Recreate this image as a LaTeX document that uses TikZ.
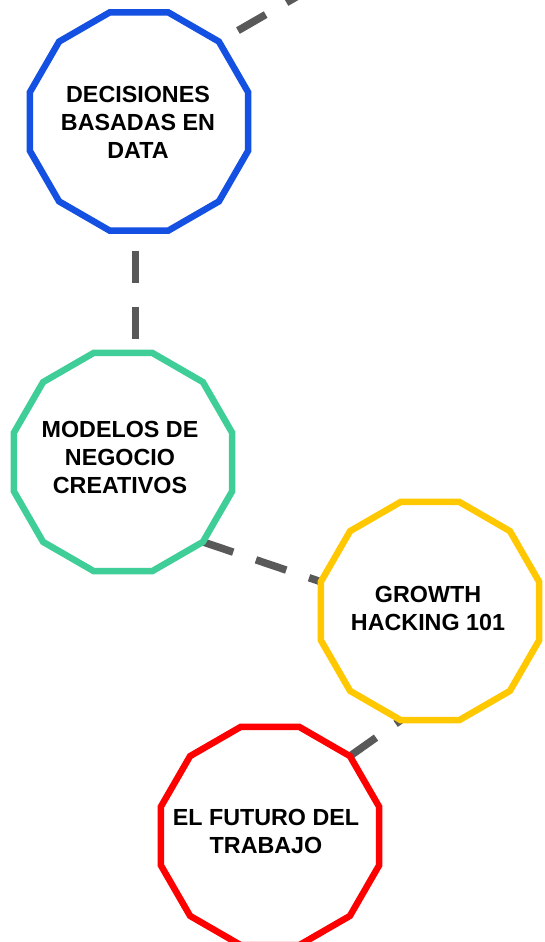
\documentclass[tikz,border=0pt]{standalone}
\usepackage{fontspec}
\setmainfont{Liberation Sans}
\usetikzlibrary{shapes.geometric,backgrounds}
\definecolor{cblue}{HTML}{1451E3}
\definecolor{cgreen}{HTML}{40CE98}
\definecolor{cyellow}{HTML}{FFC800}
\definecolor{cred}{HTML}{FF0000}
\definecolor{cgray}{HTML}{595959}
\begin{document}
\begin{tikzpicture}[x=1pt,y=1pt,
  dodeca/.style={regular polygon, regular polygon sides=12, minimum size=226pt,
    inner sep=0pt, outer sep=0pt, line width=6.5pt, fill=white},
  caption/.style={font=\bfseries\fontsize{23.3}{28}\selectfont, align=center, text=black, inner sep=0pt},
  link/.style={draw=cgray, line width=7.5pt, dash pattern=on 32pt off 24pt}]
\useasboundingbox (0,0) rectangle (544,-942);
\clip (0,0) rectangle (544,-942);
\node[dodeca, draw=cblue] (blue) at (139,-121.5) {};
\node[dodeca, draw=cgreen] (green) at (123,-462) {};
\node[dodeca, draw=cyellow] (yellow) at (430,-611) {};
\node[dodeca, draw=cred] (red) at (270,-836) {};
\node[caption] (tblue) at (138,-122) {DECISIONES\\BASADAS EN\\DATA};
\node[caption] (tgreen) at (120,-457) {MODELOS DE\\NEGOCIO\\CREATIVOS};
\node[caption] (tyellow) at (428,-608) {GROWTH\\HACKING 101};
\node[caption] (tred) at (266,-831) {EL FUTURO DEL\\TRABAJO};
\path (blue.45) ++(30:140) coordinate (offtop);
\begin{scope}[on background layer]
\draw[link, dash phase=34pt] (blue.45) -- (offtop);
\draw[link, dash phase=36pt] ([xshift=-3.5pt]blue.south) -- ([xshift=-3.5pt]blue.south |- green.north);
\draw[link] (green.-45) -- (yellow.165);
\draw[link] (red.45) -- (yellow.255);
\end{scope}
\end{tikzpicture}
\end{document}
